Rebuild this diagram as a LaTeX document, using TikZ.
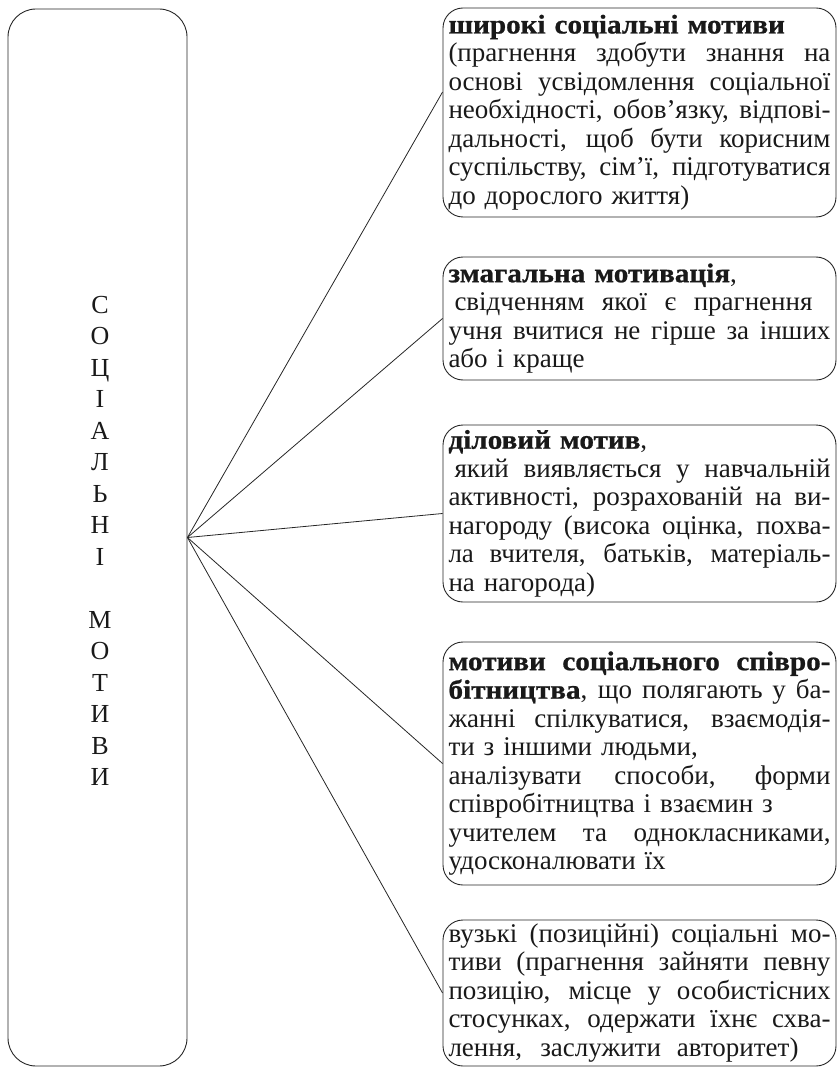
\documentclass[tikz,border=0pt]{standalone}
\usepackage{fontspec}
\setmainfont{Liberation Serif}[BoldFeatures={FakeStretch=1.08,FakeBold=0.8}]
\newcommand{\J}[1]{{\spaceskip=0pt\xspaceskip=0pt\makebox[382pt][s]{#1}}}
\newcommand{\JW}[2]{{\spaceskip=0pt\xspaceskip=0pt\makebox[#1][s]{#2}}}
\tikzset{
  conn/.style={draw=black!85, line width=0.8pt},
  leftbox/.style={draw=black!85, line width=0.9pt, rounded corners=28pt,
    minimum width=179pt, minimum height=1057pt, inner sep=0pt},
  motbox/.style={draw=black!85, line width=0.9pt, rounded corners=20pt,
    minimum width=393pt, text width=382pt, inner xsep=5.5pt, inner ysep=0pt,
    align=left, font=\fontsize{27}{28.5}\selectfont, text=black!90},
  vlabel/.style={align=center, font=\fontsize{26}{31.5}\selectfont, text=black!90, inner sep=0pt},
}
\begin{document}
\begin{tikzpicture}[x=1pt,y=-1pt]
\useasboundingbox (0,0) rectangle (837,1067);
\node[leftbox] (left) at (97.5,537.5) {};
\node[vlabel] (lbl) at (100,541) {С\\О\\Ц\\І\\А\\Л\\Ь\\Н\\І\\\mbox{}\\М\\О\\Т\\И\\В\\И};

\node[motbox, minimum height=209pt] (b1) at (639.5,112.5) {%
\textbf{широкі соціальні мотиви}\\
\J{(прагнення здобути знання на}\\
\J{основі усвідомлення соціальної}\\
\J{необхідності, обов’язку, відпові-}\\
\J{дальності, щоб бути корисним}\\
\J{суспільству, сім’ї, підготуватися}\\
до дорослого життя)};

\node[motbox, minimum height=123pt] (b2) at (639.5,318.5) {%
\textbf{змагальна мотивація},\\
\JW{364pt}{\hspace*{6pt}свідченням якої є прагнення}\\
\J{учня вчитися не гірше за інших}\\
або і краще};

\node[motbox, minimum height=177pt] (b3) at (639.5,513.5) {%
\textbf{діловий мотив},\\
\J{\hspace*{6pt}який виявляється у навчальній}\\
\J{активності, розрахованій на ви-}\\
\J{нагороду (висока оцінка, похва-}\\
\J{ла вчителя, батьків, матеріаль-}\\
на нагорода)};

\node[motbox, minimum height=243pt] (b4) at (639.5,763.5) {%
\J{\textbf{мотиви соціального співро-}}\\
\J{\textbf{бітництва}, що полягають у ба-}\\
\J{жанні спілкуватися, взаємодія-}\\
ти з іншими людьми,\\
\J{аналізувати способи, форми}\\
співробітництва і взаємин з\\
\J{учителем та однокласниками,}\\
удосконалювати їх};

\node[motbox, minimum height=146pt] (b5) at (639.5,993) {%
\J{вузькі (позиційні) соціальні мо-}\\
\J{тиви (прагнення зайняти певну}\\
\J{позицію, місце у особистісних}\\
\J{стосунках, одержати їхнє схва-}\\
\JW{350pt}{лення, заслужити авторитет)}};

\coordinate (e1) at (b1.west |- 0,92);
\draw[conn] (left.east) -- (e1);
\draw[conn] (left.east) -- (b2.west);
\draw[conn] (left.east) -- (b3.west);
\draw[conn] (left.east) -- (b4.west);
\draw[conn] (left.east) -- (b5.west);
\end{tikzpicture}
\end{document}
